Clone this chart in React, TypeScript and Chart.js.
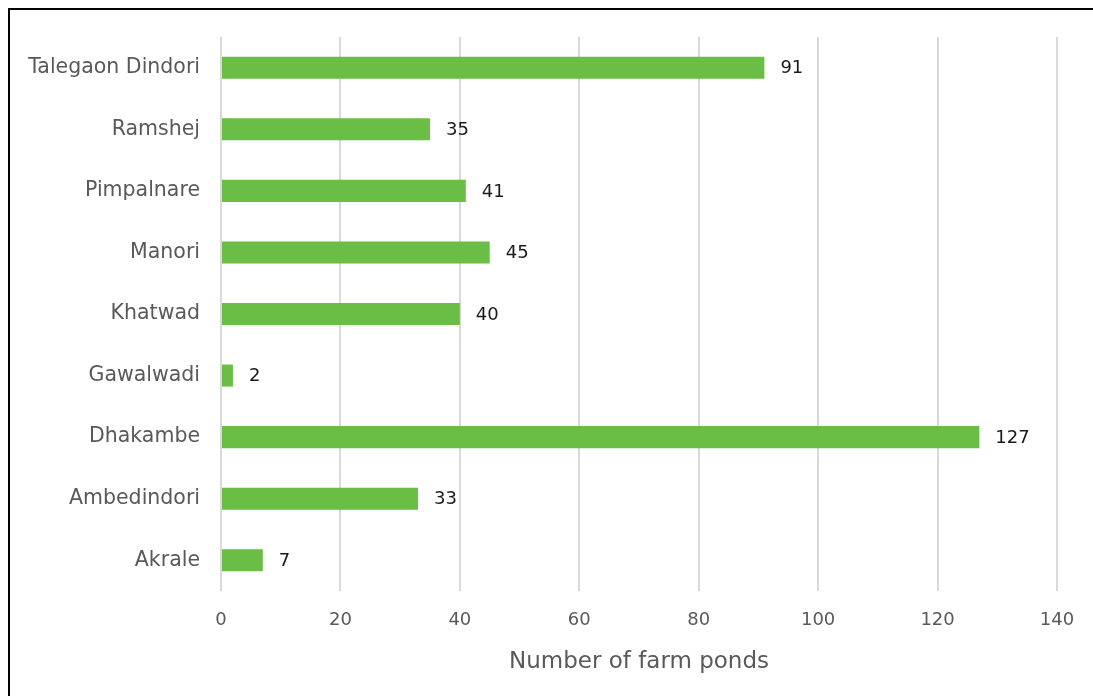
import React, { useEffect, useRef } from "react";
import { Chart, registerables } from "chart.js";

Chart.register(...registerables);

const villages = [
  "Talegaon Dindori",
  "Ramshej",
  "Pimpalnare",
  "Manori",
  "Khatwad",
  "Gawalwadi",
  "Dhakambe",
  "Ambedindori",
  "Akrale",
];
const farmPonds = [91, 35, 41, 45, 40, 2, 127, 33, 7];
const axisTitle = "Number of farm ponds";
const xMax = 140;
const xStep = 20;

const FONT = "'DejaVu Sans', sans-serif";

const valueLabels = {
  id: "valueLabels",
  afterDatasetsDraw(chart: any) {
    const ctx = chart.ctx;
    const meta = chart.getDatasetMeta(0);
    ctx.save();
    ctx.font = `18px ${FONT}`;
    ctx.fillStyle = "#1a1a1a";
    ctx.textAlign = "left";
    ctx.textBaseline = "middle";
    meta.data.forEach((bar: any, i: number) => {
      ctx.fillText(String(chart.data.datasets[0].data[i]), bar.x + 16, bar.y + 1);
    });
    ctx.restore();
  },
};

export default function App() {
  const ref = useRef<HTMLCanvasElement>(null);
  useEffect(() => {
    document.documentElement.style.overflow = "hidden";
    const chart = new Chart(ref.current!, {
      type: "bar",
      data: {
        labels: villages,
        datasets: [
          {
            data: farmPonds,
            backgroundColor: "#6abd45",
            categoryPercentage: 1,
            barPercentage: 0.358,
          },
        ],
      },
      options: {
        indexAxis: "y",
        animation: false,
        responsive: false,
        layout: { padding: { top: 27, right: 43, left: 0, bottom: 0 } },
        plugins: { legend: { display: false }, tooltip: { enabled: false } },
        scales: {
          x: {
            min: 0,
            max: xMax,
            ticks: {
              stepSize: xStep,
              color: "#595959",
              font: { family: FONT, size: 18 },
              padding: 19,
            },
            grid: { color: "#d9d9d9", lineWidth: 2, drawTicks: false },
            border: { display: false },
            title: {
              display: true,
              text: axisTitle,
              color: "#595959",
              font: { family: FONT, size: 23 },
              padding: { top: 10, bottom: 24 },
            },
            afterFit(scale: any) {
              scale.height = 109;
            },
          },
          y: {
            ticks: {
              color: "#595959",
              font: { family: FONT, size: 20.5 },
              padding: 13,
            },
            grid: { display: false },
            border: { display: false },
            afterFit(scale: any) {
              scale.width = 211;
            },
          },
        },
      },
      plugins: [valueLabels],
    });
    return () => chart.destroy();
  }, []);
  return (
    <div
      style={{
        position: "fixed",
        left: 8,
        top: 8,
        width: 1100,
        height: 700,
        border: "2px solid #000",
        boxSizing: "content-box",
      }}
    >
      <canvas ref={ref} width={1090} height={690} style={{ display: "block" }} />
    </div>
  );
}
